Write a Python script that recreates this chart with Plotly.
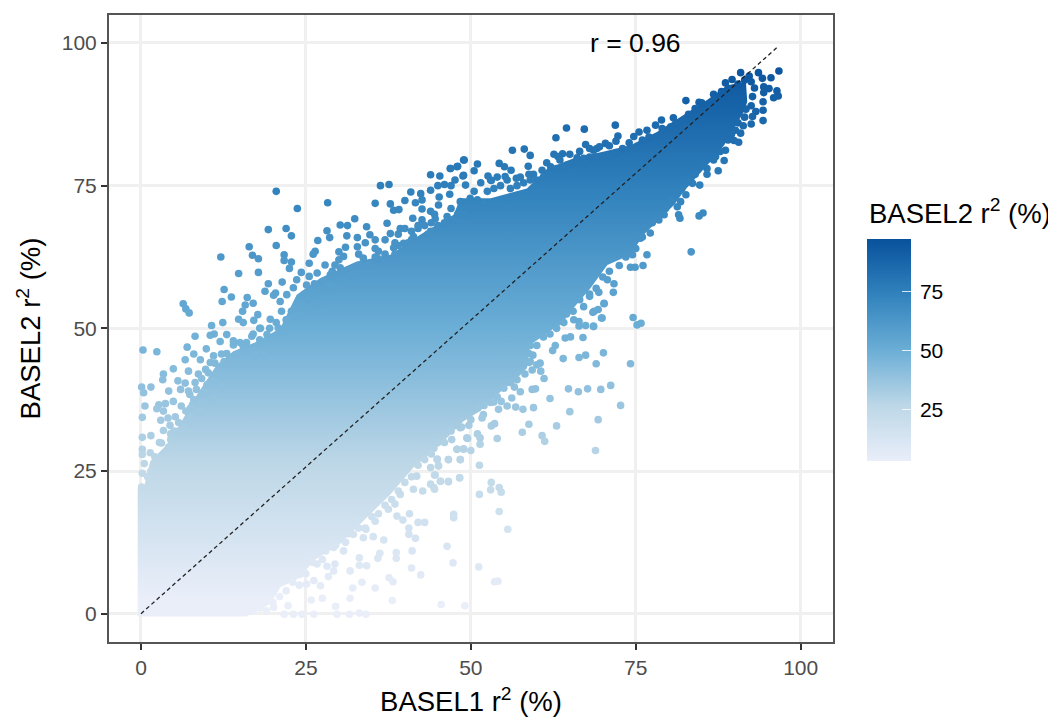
import plotly.graph_objects as go

# Solid body of the cloud: boundary (BASEL1, BASEL2)
body_x = [-0.5,-0.5,0.4,1.4,3.9,5.9,8.5,11.5,14,17.6,21.1,23.6,27.2,32.7,37.8,42.3,47.4,48.4,53,58.5,61.6,65.6,70.2,74.2,78.2,82.3,85.8,88.9,91.7,
          91.9,91.4,89.9,88.4,86.3,82.3,80.8,78.8,76.2,74.2,70.7,68.1,65.6,63.6,62.6,59,58.5,56.5,54,51.4,48.9,46.9,44.9,41.3,37.8,34.2,30.2,26.2,24.1,21.1,19.6,16]
body_y = [-0.5,22,22,26.7,29.6,33.2,38.4,43.6,46,47.7,50,55.9,58.8,61.7,62.9,66.4,69.9,72.8,72.8,74.5,78,79.8,81,82.1,84.4,87.4,90,92.6,93.2,
          89.7,88,85,82.1,79.2,74,71.6,69.3,66.4,62.9,61.1,57,53.6,50.6,50,47.1,43,40.7,38.4,35.5,33.7,31.4,29.1,25.6,20.9,16.8,12.2,9.3,6.3,4.6,1.7,-0.5]

# Individual points around the body, upper side
upper_x = [20.5,23.7,28.3,19.3,22,22.8,16.4,20.5,12.1,16.9,17.8,21.7,21.7,22.8,14.8,17.8,22.5,24.3,25.5,26.4,26.1,26.8,28.2,28.6,30.2,31.3,32.4,31.2,32.8,34.2,30,31,32.8,30.7,34.7,35.5,35.5,
           36.3,37.6,35.5,37.8,38.3,39.1,40,40.9,41.6,42.4,42.6,43.9,45.3,46.9,48,49,43.9,45,46,47,47.6,48.9,49.2,46.8,45.2,37.3,37.8,39,39.3,41.2,42.6,42.6,43.9,45.1,46.4,47.4,44.6,38.3,39.8,41.3,43.9,48.4,49.9,
           6.4,6.8,7.3,12.6,13.7,12.3,19.3,18.8,20.1,20.4,16.1,17,15.8,15.4,17.7,17.1,14.8,15.5,12.4,10.7,21.4,22.1,21.1,23.6,23.1,25.5,26.7,27.9,29.4,25.1,27.7,28.7,31.5,30.2,33.7,26.7,23.6,25.4,21.3,19.6,18,20.8,23.1,
           64.5,67.2,62.9,71.9,67.4,72.3,72,56.3,58.1,59,62.6,63.9,63.2,48.9,51,54.3,55.1,50.5,46.9,47.9,58.7,58.8,48.8,52.6,53.1,56.1,55.2,56.9,60.8,62.1,64.6,66.1,67.1,69.1,70.4,68.6,74.7,75.5,76.7,78,78.9,80.7,82.6,80.3,84.6,86.8,88.6,89.6,90.9,92.2,93.6,94.2,95.5,96.7,
           0.3,2.4,8.2,10.5,11.1,7,9.9,8,6.7,4.9,3.4,3.3,5.6,6.7,0.1,1.5,0.4,4.2,6,0.6,2.7,3.7,4.9,6.1,2.4,7.8,7.2,8.7,0.2,3,4.1,3.4,4.4,5.7,3.4,4.5,0.2,1.5,3.1,4.2,0.2,0.2,1.4,2.1,0.5,0.2,0.1,9,11.2,12.6,10.2,13,14.5,15.5,14,13,12,16.8,18.1,19.1,17.3,18.6,7.4,8.4,9.7,11,9,7.4,9,5.7,12.5,11.2,10,
           1,1.5,2.5,2.8,4.5,5,5.2,6.5,6.8,7.5,8,7.2,8.2,9.2,9.8,10.5,11,12.2,13,14,15,16,17,18,19.5,20.5,21,22,22.8,23.5,24.5,24.8,26,26.3,27,28.5,29,30,31,32,33,34.5,35.5,36,37,38.5,39,40.5,41,42,43,44,45,46,47,48,49,50,51,52,52.5,53.5,54.5,56,57,58,59,60,61,62,63,64,65.5,67,68,69,70.5,72,73,74,76,77,79,81,83,84,85,87,88,89,90.5,91.5,92.5,
           30,33,34,36,37,38.5,40,41,42,43.5,44.5,50.5,51.5,53,54,55.5,57.5,59.5,61.5,63.5,65,66.5,68,69.5,71]
upper_y = [74,71,72,67.3,67.5,66.2,64.3,64.5,62.5,62.8,62.2,62.9,61.9,61.6,59.6,59.8,60.5,59.8,61.4,63.5,63,65.4,67.1,65.9,68.1,68,69.2,66.2,65.9,67.8,63.4,64.2,64.3,62.6,66.4,65.5,64,
           75,75.2,71.9,71.8,70.7,70.8,72.4,73.9,72,73.6,72.5,76.9,76.7,78,78.4,79.5,74.2,75,75.2,75,76,76.8,75.1,73.5,73,68.4,66.6,66.5,67.5,69.3,70.9,69,70.5,71.6,69.6,69,69.2,64.1,64.9,66.1,67,72.2,72.8,
           54.3,53.4,52.7,56.8,55.5,54.7,57.8,56.5,55.8,56.2,55.4,54.4,54.1,53,52.4,51.4,51.6,51,51,50.5,58.1,55.9,54.7,58.5,57.1,59.1,59.7,61.1,61.1,57.6,58.2,59.4,60.3,60.6,62.3,54.4,53.6,55.3,53,51.6,50,50.1,52.1,
           85.1,84.9,83.4,85.6,82.2,83.7,82.8,81.2,81.4,80.3,80.5,80.6,80.1,79.5,78.8,78.9,78.3,77.6,78,78.3,78.4,77,76.7,76.7,75.9,77.7,76.6,76.3,77.7,78.3,78.6,79.9,79.8,81.5,82.4,81.2,83.6,84.4,84.7,85.6,86.5,86.9,89.9,85.3,89.6,91,93,93.6,94.8,94.2,94.8,93.8,93.9,95.1,
           46.2,45.9,48.6,48.8,49,46.7,46.4,45.5,44.5,42.9,42,41,40.8,40.4,39.7,39.7,38.7,39,39.3,36.4,36.6,36.8,37.2,36.4,35.9,36.6,42.5,42,34.4,33.9,34.3,35.5,33,33.5,32.1,31.5,30.9,31.2,29.9,29.2,28.8,27.9,28.2,27.5,26.3,24.6,22.2,44.5,43.9,44.2,42.2,45.6,45.4,46.8,47.1,48.9,47.7,48.6,50,48.9,45.4,45.4,38.4,39.3,39,37.8,36.9,34.3,35.5,32,39.9,40.7,40.1,
           24,25,27,30,30.5,32,34.5,32.5,35.5,36,37.5,39,40.5,41.2,42.8,44,45.2,45.5,43.8,47.8,47.5,47.5,49,48,50,51,49.5,51.5,53,52,54,56,56,57.8,56.5,57.5,60,58.5,60,59.5,61,61,62.5,63.5,63,63,64.5,65,67,67.5,68,68.5,68,68.5,71,70,70,71,72.5,72,74,74.5,75,74.5,75,75.5,76,76,76.5,77,78,78,77.5,79,80,80,80,80.8,81.5,82.5,83,83.5,85,85.8,87.5,88.5,89.5,90,91.5,92,92.8,93.5,93.2,
           62,63,65,62.2,65.5,65,67.5,65.5,68,66.5,70,74,75.5,76,76.5,76,76.5,77,79,79.5,80.5,81,81.5,81.8,82]

# Individual points around the body, lower side
lower_x = [94.4,95.2,96.4,96.6,95.9,94.4,93,92.7,94.3,94.3,94.3,92.5,93.2,91.7,92.7,91.3,90.9,90.1,89.9,90.6,88.6,88.4,87.1,85.8,87.5,85.8,83.6,84.7,82.6,81.8,81.3,81.7,81.5,84.6,85.2,83.4,79.3,77.2,75.7,76.7,76.1,74.9,74.2,74.5,71.7,71.6,70.7,69.4,68,67.1,70.2,68.7,69.9,74.6,75.2,75.8,68.6,66.4,64.1,
           74.2,70.1,67.4,66.4,64,69,71.2,69.7,67.7,66.3,64.8,72.7,62,65,69.3,63,59.5,57.9,56.8,55.5,58.8,57.8,60.8,61.2,68.9,56.2,57.5,56.6,59.8,59.3,61.1,60.6,59.3,59,60.5,60,58.8,59.4,62.4,62.8,65.1,64.3,67,68.6,69.8,68.5,69.3,70.2,66.4,67.4,65.6,54,53.1,53.6,54.2,54.6,53.5,51.9,51.7,49.7,48.6,51,51.4,51.4,49.5,50,48.9,47.9,51.3,48.4,46.6,45.1,44.9,44.5,45.4,46.6,48.3,44.4,
           53.1,54.3,53,54.6,51.3,54.3,55.6,47.4,47.4,46.4,47.3,51.2,53.6,54.1,45.5,49.1,
           42,43,40.7,40.6,40.6,41.6,38.8,39.7,36.8,35.2,34.1,33.7,41.1,38.7,38.7,36.2,35.9,33.1,33.1,34.2,41,42.4,37.6,38.2,31.7,33.5,32.1,35.5,38.1,29.4,28.2,29.2,28.4,27.2,25.8,27.5,31.7,29.5,29.7,31.6,33.1,34.1,26.2,24.4,23.1,21.7,22.3,18.8,20.1,24.1,26.2,25.1,26.7,25.4,29.2,30.7,32.2,32.7,35.5,37.5,38.5,42.7,43.9,44.5,45.4,46.6,48.3,44.6,46.6,48.4,43.9,44.9,45.1,47.9,48.9,49.4,47.1,48.4,41.8,41.3,44.4,39.3,
           92.5,91.5,90.5,89.5,89,87.8,86.8,85.2,84,83,82,80.5,79.5,78.5,77.5,76,75,73.5,72.5,71,70,69,68,66.5,65.5,64.5,63,62,61,60,59,58.8,58.2,57,56,55,54,53,52,51,50,48,47,46,45,44,43,42,41,40,39,38,37,36,35,34,33,31.5,31,29.5,28,27.5,26,25,24,23,22,21,20,19,18,17]
lower_y = [92.3,92,91.6,90.7,90.4,91.3,92.1,90.6,89.7,88.2,86.4,85.8,88,88.4,87.1,85.5,84.2,84.7,82.9,82.6,81.2,79.4,80.1,78,77.6,77,75.4,75.1,73.4,72.2,71.3,69.3,69.9,69.7,70.2,63.4,69.9,66.7,65.8,62.9,61,60.7,60.7,62.9,57.8,56.3,58.5,56.3,55.6,53.8,54.4,53,51.8,51.9,50.6,50.9,50.4,51.2,51,
           43.8,45.7,45.3,44.9,44.7,43.8,40,39.3,39.4,38.9,39.4,36.5,37.7,35.4,34,32.9,36.1,35.8,36.2,36.4,33.2,31.8,31.2,30.2,28.6,37.8,38.9,39.7,39.4,39.3,41.2,42.5,42.7,44.2,43.9,43.6,45.6,45.3,46.1,47,48.5,48.3,48.4,50.3,51.8,52.8,53.3,54.3,50.4,50.5,51.5,30.7,32.9,33.3,35.8,37.2,37.1,34.9,34.3,33,32.7,31.5,30.8,29.7,30.7,28.6,28.9,28.8,26,27,27,25.9,27.1,24.3,23.2,23.1,23.8,22.1,
           23,22.1,21.7,21.3,20.9,17.9,14.8,17.4,16.8,11.8,8.9,8.2,5.6,5.7,1.6,1.4,
           16,16,17.5,15,13.9,13.2,17.1,16.4,12.9,13.5,14.8,13.3,11,10.7,9.7,10.6,9.7,9.8,8.5,8.4,8,6.8,6.3,5.6,7.5,5.5,4.5,4.5,2.3,8.7,8.3,7.5,6.5,4.9,2.4,2.7,2.7,1.3,-0.1,-0.1,0.1,-0.1,-0.1,-0.1,-0.1,-0.1,1.4,2.3,1.1,6.9,5.8,5.2,8.7,9.3,11.6,11,13.9,16.5,16.2,18.3,19.2,21.5,22.7,21.8,23.2,23.2,23.8,24.3,27,27,25.6,27,25.9,28.8,28.8,30.8,30.5,32.6,24.1,21.8,29,20.9,
           89,87,86,84,83,81,79.5,78.5,77,75.8,74.5,72.5,71,69,68.5,66,64,62.5,61,60,59,57,56,55,53,52.5,50,49,48.5,47,47,44,42,41,40.5,39.5,38,37,36.5,36,34,33,32,30,30,28,27,26,24,23,21.5,20,19,17.5,17,15,15,14,12.5,12,11,9.5,9,7,5,5.5,4,3,2,0.5,1,0.5]

# Dashed reference line ends
line_x = [0, 96.7]
line_y = [0, 99.5]

TICKS = [0, 25, 50, 75, 100]
CB_TICKS = [25, 50, 75]
C_MIN, C_MAX = 3, 97.6
BLUES = [[0, "#e9eef9"], [0.25, "#bdd7e7"], [0.5, "#6baed6"], [0.75, "#3182bd"], [1, "#08519c"]]

FONT = "Liberation Sans, Arial, Helvetica, sans-serif"
W, H = 1056, 722
OFF = 8  # page margin around the figure
FW, FH = W - OFF, H - OFF
PL, PR, PT, PB = 109, 833, 12.7, 641.7
CB_L, CB_T, CB_B, CB_W = 867, 238, 460, 44
CB_SHIFT = 33

fig = go.Figure()
fig.add_trace(go.Scatter(
    x=body_x, y=body_y, mode="lines", fill="toself", line=dict(width=0),
    fillgradient=dict(type="vertical", colorscale=BLUES, start=C_MIN, stop=C_MAX),
    hoverinfo="skip", showlegend=False))
px = upper_x + lower_x
py = upper_y + lower_y
fig.add_trace(go.Scatter(
    x=px, y=py, mode="markers", showlegend=False,
    marker=dict(size=7.6, color=py, colorscale=BLUES, cmin=C_MIN, cmax=C_MAX, line=dict(width=0),
                colorbar=dict(
                    xref="container", yref="container",
                    x=(CB_L - OFF) / FW, xanchor="left", y=1 - (CB_T - OFF + CB_SHIFT) / FH, yanchor="top",
                    lenmode="pixels", len=CB_B - CB_T, thickness=CB_W, thicknessmode="pixels",
                    xpad=0, ypad=0, outlinewidth=0, borderwidth=0,
                    tickmode="array", tickvals=CB_TICKS, ticktext=["\u2009" + str(t) for t in CB_TICKS],
                    ticks="inside", ticklen=9, tickwidth=1, tickcolor="rgba(255,255,255,0.8)",
                    tickfont=dict(size=21, color="#000", family=FONT)))))
fig.add_trace(go.Scatter(
    x=line_x, y=line_y, mode="lines", showlegend=False, hoverinfo="skip",
    line=dict(color="#222", width=1.3, dash="4px,3px")))

axis = dict(tickmode="array", tickvals=TICKS, ticktext=[str(t) for t in TICKS],
            showgrid=True, gridcolor="#f0f0f0", gridwidth=3, zeroline=False,
            showline=True, mirror=True, linecolor="#555", linewidth=2,
            ticks="outside", ticklen=6, tickwidth=2, tickcolor="#333",
            tickfont=dict(size=21, color="#4d4d4d", family=FONT))
fig.update_xaxes(**axis)
fig.update_yaxes(**axis)
fig.update_xaxes(range=[-4.85, 104.9],
                 title=dict(text="BASEL1 r<sup>2</sup> (%)", font=dict(size=27.5, color="#000", family=FONT), standoff=14))
fig.update_yaxes(range=[-4.96, 104.9],
                 title=dict(text="BASEL2 r<sup>2</sup> (%)", font=dict(size=27.5, color="#000", family=FONT), standoff=13))

shapes = []
for t in CB_TICKS:
    yy = CB_B - (t - C_MIN) / (C_MAX - C_MIN) * (CB_B - CB_T)
    shapes.append(dict(type="line", xref="paper", yref="paper",
                       x0=(CB_L - PL) / (PR - PL), x1=(CB_L + 9 - PL) / (PR - PL),
                       y0=(PB - yy) / (PB - PT), y1=(PB - yy) / (PB - PT),
                       line=dict(color="rgba(255,255,255,0.8)", width=1)))

fig.update_layout(
    width=FW, height=FH, autosize=False,
    margin=dict(l=PL - OFF, r=W - PR, t=PT - OFF, b=H - PB, pad=0),
    paper_bgcolor="white", plot_bgcolor="white",
    font=dict(family=FONT),
    shapes=shapes,
    annotations=[
        dict(x=75, y=100, xref="x", yref="y", text="r = 0.96", showarrow=False,
             font=dict(size=26.5, color="#000", family=FONT)),
        dict(x=(CB_L - PL) / (PR - PL), y=(PB - 210) / (PB - PT), xref="paper", yref="paper",
             xanchor="left", yanchor="middle", text="BASEL2 r<sup>2</sup> (%)", showarrow=False,
             font=dict(size=27.5, color="#000", family=FONT))])
fig.write_html("out.html")
